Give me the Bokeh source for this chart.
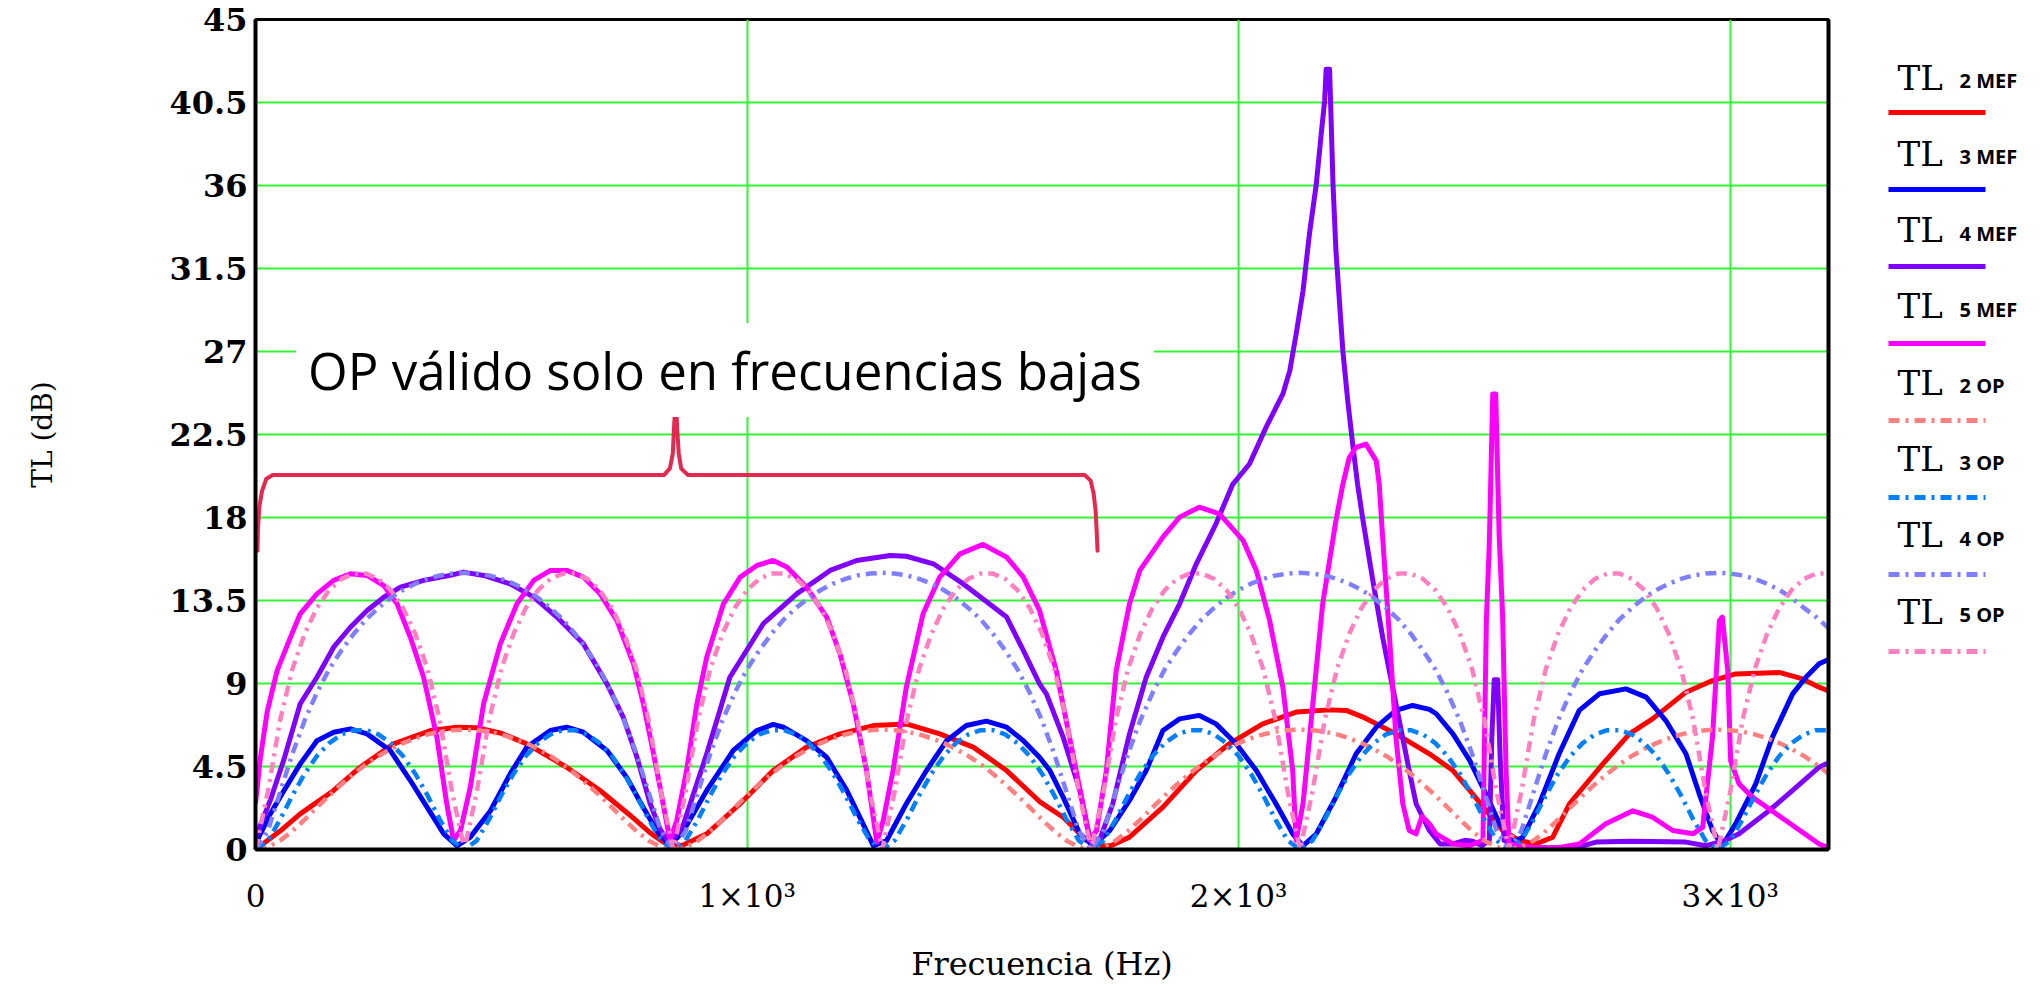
from bokeh.plotting import figure
from bokeh.models import Range1d, FixedTicker, CustomJSTickFormatter, Label, LinearAxis
from bokeh.layouts import row
from bokeh.embed import file_html
from bokeh.resources import INLINE

# ---------------- data ----------------
x_ticks = [0, 1000, 2000, 3000]
x_grid = [1000, 2000, 3000]
y_ticks = [0, 4.5, 9, 13.5, 18, 22.5, 27, 31.5, 36, 40.5, 45]

tl2_mef_f = [0, 50, 91, 159, 213, 281, 356, 410, 450, 500, 552, 633, 701, 760, 803, 830, 850, 870, 918, 986,
             1053, 1121, 1189, 1257, 1324, 1392, 1460, 1528, 1595, 1643, 1690, 1720, 1740, 1778, 1846, 1914, 1981, 2049, 2117, 2185,
             2219, 2253, 2320, 2388, 2436, 2470, 2537, 2571, 2605, 2639, 2673, 2741, 2795, 2842, 2910, 2964, 3011, 3100, 3147, 3181, 3200]
tl2_mef = [0, 1.0, 1.93, 3.2, 4.46, 5.73, 6.45, 6.63, 6.6, 6.3, 5.73, 4.46, 3.2, 1.9, 0.9, 0.4, 0.2, 0.25, 0.85, 2.48,
           4.28, 5.55, 6.27, 6.72, 6.81, 6.27, 5.55, 4.28, 2.6, 1.75, 0.5, 0.2, 0.2, 0.67, 2.3, 4.28, 5.73, 6.81, 7.45, 7.57,
           7.54, 7.18, 6.27, 5.19, 4.28, 3.2, 1.03, 0.49, 0.3, 0.67, 2.48, 4.64, 6.27, 7.08, 8.53, 9.16, 9.52, 9.6, 9.25, 8.8, 8.6]

tl3_mef_f = [0, 30, 58, 91, 125, 159, 193, 227, 274, 315, 349, 383, 410, 437, 478, 518, 552, 600, 633, 667,
             715, 755, 782, 816, 843, 871, 918, 972, 1020, 1053, 1074, 1121, 1162, 1203, 1236, 1257, 1284, 1324, 1365, 1406,
             1446, 1487, 1528, 1562, 1595, 1616, 1643, 1677, 1704, 1738, 1778, 1812, 1846, 1880, 1920, 1954, 1995, 2036, 2076, 2110,
             2131, 2158, 2198, 2239, 2280, 2320, 2354, 2388, 2402, 2436, 2470, 2503, 2531, 2558, 2578, 2612, 2652, 2693, 2734, 2788,
             2829, 2869, 2910, 2937, 2964, 2984, 3011, 3052, 3086, 3127, 3154, 3181, 3200]
tl3_mef = [0.3, 1.93, 3.2, 4.64, 5.9, 6.36, 6.54, 6.27, 5.37, 3.74, 2.3, 0.85, 0.2, 0.67, 2.1, 4.1, 5.55, 6.45, 6.63, 6.36,
           5.37, 3.92, 2.6, 1.03, 0.2, 1.03, 3.2, 5.37, 6.45, 6.78, 6.63, 5.9, 5.0, 3.2, 1.39, 0.2, 0.49, 2.48, 4.28, 5.9,
           6.72, 6.96, 6.63, 5.9, 5.0, 4.28, 2.84, 0.85, 0.2, 1.03, 2.66, 4.28, 6.45, 7.08, 7.27, 6.81, 5.73, 4.28, 2.48, 0.85,
           0.2, 0.85, 2.84, 5.19, 6.63, 7.54, 7.81, 7.6, 7.36, 6.27, 4.83, 3.02, 1.39, 0.4, 0.67, 2.48, 5.19, 7.54, 8.44, 8.71,
           8.26, 6.99, 5.19, 3.02, 1.03, 0.2, 1.39, 3.56, 6.09, 8.44, 9.34, 10.07, 10.3]

tl4_mef_f = [0, 30, 58, 91, 125, 159, 193, 227, 261, 295, 342, 396, 423, 464, 518, 566, 613, 667, 715, 748,
             776, 803, 823, 843, 871, 918, 965, 1033, 1101, 1169, 1223, 1291, 1324, 1379, 1440, 1528, 1562, 1595, 1609, 1643,
             1677, 1697, 1717, 1744, 1778, 1812, 1846, 1880, 1914, 1954, 1988, 2022, 2056, 2090, 2104, 2117, 2131, 2144, 2158, 2168,
             2175, 2178, 2185, 2188, 2192, 2198, 2205, 2212, 2222, 2232, 2242, 2253, 2273, 2293, 2320, 2347, 2361, 2388, 2410, 2436,
             2460, 2476, 2495, 2510, 2515, 2520, 2527, 2532, 2540, 2560, 2600, 2650, 2700, 2727, 2800, 2910, 2950, 2991, 3018, 3079,
             3127, 3181, 3200]
tl4_mef = [0.67, 2.66, 4.9, 7.9, 9.34, 10.97, 12.05, 12.96, 13.68, 14.22, 14.59, 14.86, 15.04, 14.86, 14.4, 13.68, 12.6, 11.15, 8.98, 7.18,
           5.0, 2.48, 1.1, 0.3, 1.39, 5.19, 9.34, 12.24, 13.86, 15.13, 15.67, 15.94, 15.9, 15.49, 14.4, 12.6, 10.79, 8.98, 8.44, 6.09,
           3.2, 0.67, 0.49, 2.48, 6.27, 9.34, 11.51, 13.32, 15.49, 17.66, 19.8, 20.9, 22.9, 24.7, 25.95, 27.94, 30.29, 33.36, 36.07, 38.79,
           40.6, 42.3, 42.3, 39.7, 36.07, 32.46, 29.75, 27.04, 24.33, 21.98, 19.8, 17.84, 14.59, 11.51, 7.9, 4.28, 2.48, 1.03, 0.3, 0.3,
           0.5, 0.45, 0.2, 0.5, 6.0, 9.2, 9.2, 5.0, 0.5, 0.2, 0.1, 0.1, 0.2, 0.4, 0.45, 0.4, 0.2, 0.5, 0.85, 2.1,
           3.2, 4.46, 4.7]

tl5_mef_f = [0, 10, 24, 44, 71, 91, 125, 159, 193, 227, 261, 288, 315, 342, 369, 389, 403, 417, 437, 464,
             498, 532, 566, 600, 633, 667, 701, 735, 769, 789, 803, 823, 843, 857, 877, 898, 918, 952, 986, 1020,
             1053, 1081, 1121, 1162, 1189, 1216, 1243, 1264, 1277, 1297, 1324, 1358, 1392, 1433, 1480, 1528, 1562, 1595, 1629, 1656,
             1683, 1697, 1711, 1731, 1751, 1778, 1799, 1846, 1880, 1920, 1961, 2009, 2036, 2063, 2090, 2110, 2117, 2131, 2151, 2171,
             2198, 2212, 2225, 2239, 2259, 2280, 2286, 2293, 2307, 2320, 2334, 2347, 2361, 2373, 2388, 2402, 2436, 2470, 2497, 2504,
             2510, 2517, 2523, 2530, 2537, 2544, 2550, 2600, 2650, 2693, 2747, 2802, 2842, 2883, 2924, 2944, 2964, 2978, 2984, 2995,
             3001, 3018, 3045, 3113, 3181, 3200]
tl5_mef = [2.5, 5.0, 7.5, 9.7, 11.5, 12.78, 13.86, 14.59, 14.95, 14.86, 14.31, 13.32, 11.51, 9.34, 6.09, 2.48, 0.5, 1.03, 3.38, 7.9,
           11.15, 13.32, 14.59, 15.13, 15.13, 14.77, 13.86, 12.42, 10.07, 7.9, 6.09, 3.38, 0.5, 1.57, 4.28, 7.9, 10.43, 13.32, 14.77, 15.4,
           15.67, 15.31, 14.22, 12.6, 10.61, 7.9, 4.28, 0.4, 1.57, 4.28, 8.8, 12.78, 14.77, 16.03, 16.54, 15.85, 14.77, 12.96, 9.7, 6.09,
           2.48, 0.5, 1.03, 4.28, 9.7, 13.32, 15.13, 16.94, 18.02, 18.56, 18.2, 16.76, 15.13, 12.42, 8.8, 4.28, 0.5, 2.48, 7.9, 13.32,
           17.84, 19.8, 21.25, 21.8, 21.98, 21.07, 19.8, 16.9, 11.5, 6.09, 2.48, 1.03, 0.85, 1.8, 1.4, 0.85, 0.3, 0.2, 0.5, 12.4,
           16.6, 24.7, 24.7, 17.0, 12.7, 4.28, 0.3, 0.1, 0.1, 0.3, 1.39, 2.1, 1.75, 1.03, 0.85, 1.2, 6.09, 12.4, 12.6, 9.7,
           4.8, 3.56, 2.84, 1.57, 0.3, 0.1]

op_freq = list(range(0, 3201, 25))
tl2_op = [0, 0.13, 0.48, 1.0, 1.62, 2.28, 2.93, 3.54, 4.11, 4.62, 5.07, 5.45, 5.77, 6.03, 6.24, 6.39, 6.47,
          6.5, 6.47, 6.39, 6.24, 6.03, 5.77, 5.45, 5.07, 4.62, 4.11, 3.54, 2.93, 2.28, 1.62, 1.0, 0.48, 0.13,
          0, 0.13, 0.48, 1.0, 1.62, 2.28, 2.93, 3.54, 4.11, 4.62, 5.07, 5.45, 5.77, 6.03, 6.24, 6.39, 6.47,
          6.5, 6.47, 6.39, 6.24, 6.03, 5.77, 5.45, 5.07, 4.62, 4.11, 3.54, 2.93, 2.28, 1.62, 1.0, 0.48, 0.13,
          0, 0.13, 0.48, 1.0, 1.62, 2.28, 2.93, 3.54, 4.11, 4.62, 5.07, 5.45, 5.77, 6.03, 6.24, 6.39, 6.47,
          6.5, 6.47, 6.39, 6.24, 6.03, 5.77, 5.45, 5.07, 4.62, 4.11, 3.54, 2.93, 2.28, 1.62, 1.0, 0.48, 0.13,
          0, 0.13, 0.48, 1.0, 1.62, 2.28, 2.93, 3.54, 4.11, 4.62, 5.07, 5.45, 5.77, 6.03, 6.24, 6.39, 6.47,
          6.5, 6.47, 6.39, 6.24, 6.03, 5.77, 5.45, 5.07, 4.62, 4.11]
tl3_op = [0, 0.48, 1.62, 2.93, 4.11, 5.07, 5.77, 6.24, 6.47, 6.47, 6.24, 5.77, 5.07, 4.11, 2.93, 1.62, 0.48,
          0, 0.48, 1.62, 2.93, 4.11, 5.07, 5.77, 6.24, 6.47, 6.47, 6.24, 5.77, 5.07, 4.11, 2.93, 1.62, 0.48,
          0, 0.48, 1.62, 2.93, 4.11, 5.07, 5.77, 6.24, 6.47, 6.47, 6.24, 5.77, 5.07, 4.11, 2.93, 1.62, 0.48,
          0, 0.48, 1.62, 2.93, 4.11, 5.07, 5.77, 6.24, 6.47, 6.47, 6.24, 5.77, 5.07, 4.11, 2.93, 1.62, 0.48,
          0, 0.48, 1.62, 2.93, 4.11, 5.07, 5.77, 6.24, 6.47, 6.47, 6.24, 5.77, 5.07, 4.11, 2.93, 1.62, 0.48,
          0, 0.48, 1.62, 2.93, 4.11, 5.07, 5.77, 6.24, 6.47, 6.47, 6.24, 5.77, 5.07, 4.11, 2.93, 1.62, 0.48,
          0, 0.48, 1.62, 2.93, 4.11, 5.07, 5.77, 6.24, 6.47, 6.47, 6.24, 5.77, 5.07, 4.11, 2.93, 1.62, 0.48,
          0, 0.48, 1.62, 2.93, 4.11, 5.07, 5.77, 6.24, 6.47, 6.47]
tl4_op = [0, 1.0, 3.1, 5.18, 7.0, 8.5, 9.78, 10.8, 11.7, 12.48, 13.1, 13.64, 14.07, 14.41, 14.67, 14.86, 14.96,
          15.0, 14.96, 14.86, 14.67, 14.41, 14.07, 13.64, 13.1, 12.48, 11.7, 10.8, 9.78, 8.5, 7.0, 5.18, 3.1, 1.0,
          0, 1.0, 3.1, 5.18, 7.0, 8.5, 9.78, 10.8, 11.7, 12.48, 13.1, 13.64, 14.07, 14.41, 14.67, 14.86, 14.96,
          15.0, 14.96, 14.86, 14.67, 14.41, 14.07, 13.64, 13.1, 12.48, 11.7, 10.8, 9.78, 8.5, 7.0, 5.18, 3.1, 1.0,
          0, 1.0, 3.1, 5.18, 7.0, 8.5, 9.78, 10.8, 11.7, 12.48, 13.1, 13.64, 14.07, 14.41, 14.67, 14.86, 14.96,
          15.0, 14.96, 14.86, 14.67, 14.41, 14.07, 13.64, 13.1, 12.48, 11.7, 10.8, 9.78, 8.5, 7.0, 5.18, 3.1, 1.0,
          0, 1.0, 3.1, 5.18, 7.0, 8.5, 9.78, 10.8, 11.7, 12.48, 13.1, 13.64, 14.07, 14.41, 14.67, 14.86, 14.96,
          15.0, 14.96, 14.86, 14.67, 14.41, 14.07, 13.64, 13.1, 12.6, 12.0]
tl5_op = [0, 3.1, 7.0, 9.78, 11.7, 13.1, 14.07, 14.67, 14.96, 14.96, 14.67, 14.07, 13.1, 11.7, 9.78, 7.0, 3.1,
          0, 3.1, 7.0, 9.78, 11.7, 13.1, 14.07, 14.67, 14.96, 14.96, 14.67, 14.07, 13.1, 11.7, 9.78, 7.0, 3.1,
          0, 3.1, 7.0, 9.78, 11.7, 13.1, 14.07, 14.67, 14.96, 14.96, 14.67, 14.07, 13.1, 11.7, 9.78, 7.0, 3.1,
          0, 3.1, 7.0, 9.78, 11.7, 13.1, 14.07, 14.67, 14.96, 14.96, 14.67, 14.07, 13.1, 11.7, 9.78, 7.0, 3.1,
          0, 3.1, 7.0, 9.78, 11.7, 13.1, 14.07, 14.67, 14.96, 14.96, 14.67, 14.07, 13.1, 11.7, 9.78, 7.0, 3.1,
          0, 3.1, 7.0, 9.78, 11.7, 13.1, 14.07, 14.67, 14.96, 14.96, 14.67, 14.07, 13.1, 11.7, 9.78, 7.0, 3.1,
          0, 3.1, 7.0, 9.78, 11.7, 13.1, 14.07, 14.67, 14.96, 14.96, 14.67, 14.07, 13.1, 11.7, 9.78, 7.0, 3.1,
          0, 3.1, 7.0, 9.78, 11.7, 13.1, 14.07, 14.67, 14.96, 14.96]

# brace annotation outline (Hz, dB)
brace_f = [4, 5, 8, 13, 22, 35, 831, 843, 849, 851, 855, 858, 861, 866, 880, 1687, 1699, 1705, 1709, 1711, 1713]
brace_db = [16.2, 17.4, 18.6, 19.4, 20.1, 20.3, 20.3, 20.66, 21.47, 22.72, 24.57, 22.72, 21.47, 20.66, 20.3, 20.3, 20.0, 19.3, 18.4, 17.4, 16.2]
note_text = "OP válido solo en frecuencias bajas"
note_f, note_db = 955, 26.0

series_names = ["2 MEF", "3 MEF", "4 MEF", "5 MEF", "2 OP", "3 OP", "4 OP", "5 OP"]
series_colors = ["#ff0000", "#0000ff", "#8000ff", "#ff00ff", "#ff8080", "#0080ff", "#8080ff", "#ff80c0"]

# ---------------- main figure ----------------
p = figure(x_range=Range1d(0, 3200), y_range=Range1d(0, 45),
           frame_width=1573, frame_height=830,
           min_border_left=255, min_border_right=32, min_border_top=19, min_border_bottom=136,
           output_backend="svg", toolbar_location=None)
p.background_fill_color = "white"
p.border_fill_color = "white"
p.outline_line_color = "black"
p.outline_line_width = 3

p.xgrid.ticker = FixedTicker(ticks=x_grid)
p.ygrid.ticker = FixedTicker(ticks=y_ticks)
p.grid.grid_line_color = "#33f533"
p.grid.grid_line_width = 2

p.xaxis.ticker = FixedTicker(ticks=x_ticks)
p.yaxis.ticker = FixedTicker(ticks=y_ticks)
p.xaxis.formatter = CustomJSTickFormatter(
    code="return tick == 0 ? '0' : (tick/1000).toFixed(0) + '\u00d710\u00b3';")
p.yaxis.formatter = CustomJSTickFormatter(
    code="return Math.abs(tick - Math.round(tick)) < 1e-9 ? Math.round(tick).toString() : tick.toFixed(1);")

for ax in (p.xaxis[0], p.yaxis[0]):
    ax.axis_line_color = "black"
    ax.axis_line_width = 4
    ax.major_tick_line_color = None
    ax.minor_tick_line_color = None
    ax.major_tick_out = 0
    ax.major_tick_in = 0
    ax.major_label_text_font = "DejaVu Serif"
    ax.major_label_text_color = "black"
    ax.axis_label_text_font = "DejaVu Serif"
    ax.axis_label_text_font_style = "normal"
    ax.axis_label_text_color = "black"

p.yaxis.major_label_text_font_size = "32px"
p.yaxis.major_label_text_font_style = "bold"
p.yaxis.major_label_standoff = 8
p.yaxis.axis_label = "TL (dB)"
p.yaxis.axis_label_text_font_size = "28px"
p.yaxis.axis_label_standoff = 108

p.xaxis.major_label_text_font_size = "31px"
p.xaxis.major_label_standoff = 28
p.xaxis.axis_label = "Frecuencia (Hz)"
p.xaxis.axis_label_text_font_size = "32px"
p.xaxis.axis_label_standoff = 28

# thick right frame edge
right_edge = LinearAxis(ticker=FixedTicker(ticks=[]), axis_line_width=4, axis_line_color="black",
                        major_tick_line_color=None, minor_tick_line_color=None,
                        major_label_text_font_size="0px")
p.add_layout(right_edge, "right")

# brace
p.line(brace_f, brace_db, line_color="#e3294f", line_width=4, line_join="round", line_cap="round")

mef = [(tl2_mef_f, tl2_mef), (tl3_mef_f, tl3_mef), (tl4_mef_f, tl4_mef), (tl5_mef_f, tl5_mef)]
for (fx, fy), col in zip(mef, series_colors[:4]):
    p.line(fx, fy, line_color=col, line_width=5, line_join="round")

ops = [tl2_op, tl3_op, tl4_op, tl5_op]
for fy, col in zip(ops, series_colors[4:]):
    p.line(op_freq, fy, line_color=col, line_width=4.5, line_dash="11 6 3 6")

p.add_layout(Label(x=note_f, y=note_db, text=note_text, text_font="Open Sans",
                   text_font_size="51px", text_color="black", text_align="center",
                   text_baseline="middle", background_fill_color="white",
                   background_fill_alpha=1.0, padding=12))

# ---------------- legend panel (canvas-pixel coordinates) ----------------
lg = figure(frame_width=183, frame_height=830, x_range=Range1d(0, 183), y_range=Range1d(849, 19),
            min_border_left=0, min_border_right=0, min_border_top=19, min_border_bottom=136,
            x_axis_type=None, y_axis_type=None, toolbar_location=None,
            output_backend="svg")
lg.outline_line_color = None
lg.background_fill_color = "white"
lg.border_fill_color = "white"
for i, (name, col) in enumerate(zip(series_names, series_colors)):
    ty = 77 + 76.3 * i
    ly = 112 + 77 * i
    lg.add_layout(Label(x=37, y=ty, text="TL", text_font="DejaVu Serif", text_font_size="34px",
                        text_color="black", text_baseline="middle"))
    lg.add_layout(Label(x=99, y=ty + 3, text=name, text_font="Open Sans", text_font_size="20px",
                        text_font_style="bold", text_color="black", text_baseline="middle"))
    dash = "solid" if "MEF" in name else "11 6 3 6"
    lg.line([28, 125], [ly, ly], line_color=col, line_width=5, line_dash=dash)

layout = row(p, lg)
open("out.html", "w").write(file_html(layout, INLINE))
